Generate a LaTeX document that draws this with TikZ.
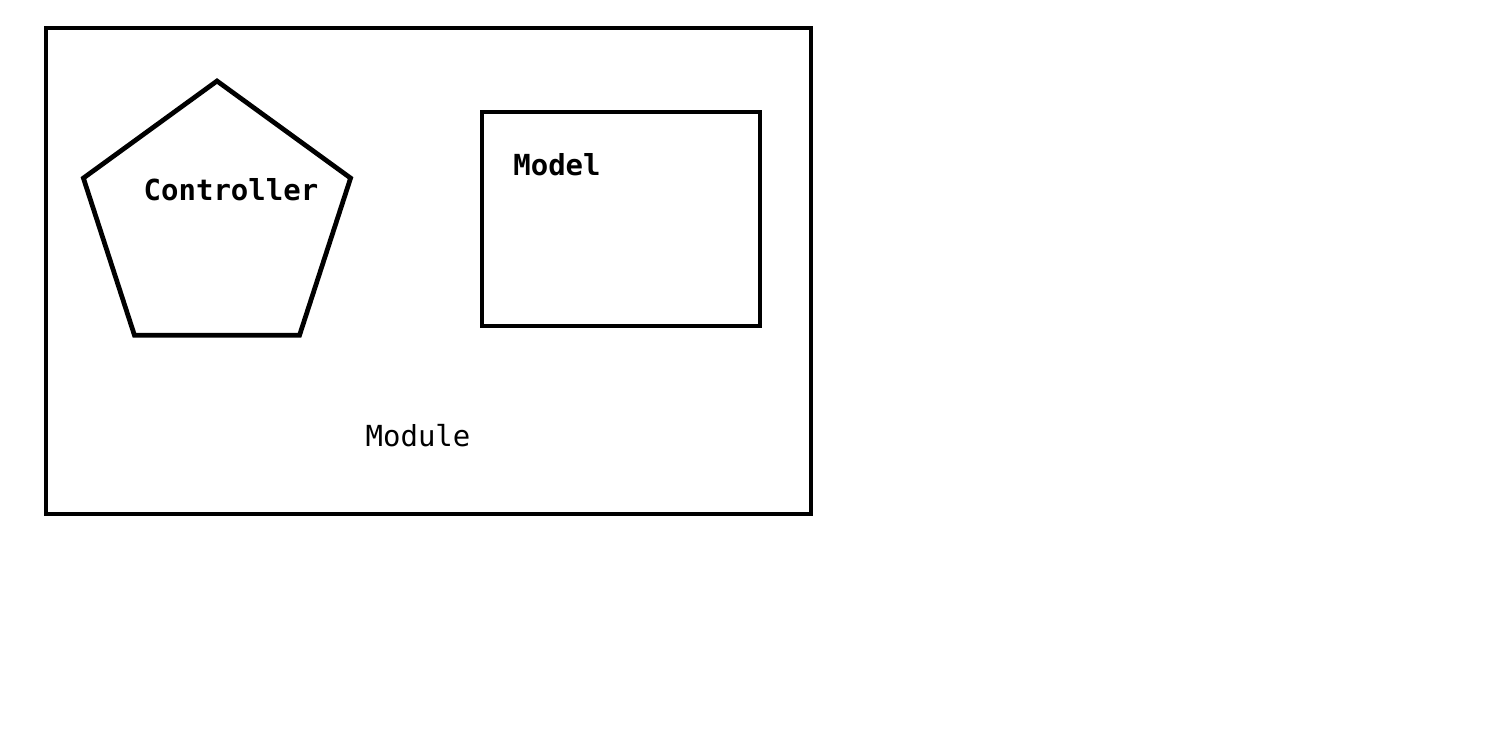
\documentclass[tikz,border=0pt]{standalone}
\usepackage{fontspec}
\setmonofont{DejaVu Sans Mono}
\usepackage{tikz}
\usetikzlibrary{shapes.geometric,positioning}
\tikzstyle{part}=[draw,line width=2.7pt,inner sep=0pt]
\tikzstyle{caption}=[font=\ttfamily\fontsize{16.5}{20}\selectfont,inner sep=0pt]

\begin{document}
\begin{tikzpicture}[x=0.02cm,y=-0.02cm]
\useasboundingbox (0,0) rectangle (1508,742);
\node [part, minimum width=15.3cm, minimum height=9.72cm] (module) at (428.5,271) {};
\node [part, regular polygon, regular polygon sides=5, minimum size=5.62cm] (controller) at (217,221.5) {};
\node [part, minimum width=5.56cm, minimum height=4.28cm] (model) at (621,219) {};
\node [caption, font=\ttfamily\bfseries\fontsize{16.5}{20}\selectfont] (controllertext) at (231,190) {Controller};
\node [caption, font=\ttfamily\bfseries\fontsize{16.5}{20}\selectfont] (modeltext) at (557,165) {Model};
\node [caption] (moduletext) at (418,436) {Module};
\end{tikzpicture}
\end{document}
